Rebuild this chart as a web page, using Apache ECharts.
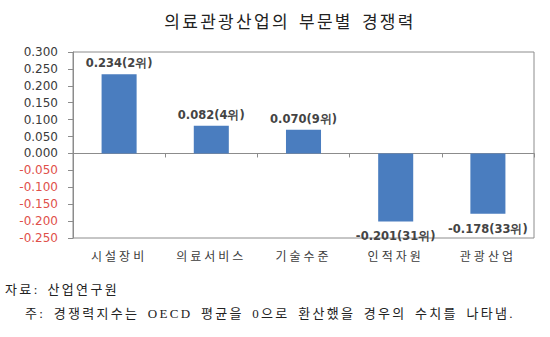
<!DOCTYPE html>
<html>
<head>
<meta charset="utf-8">
<script src="https://cdn.jsdelivr.net/npm/echarts@6/dist/echarts.min.js"></script>
<style>
  html, body { margin: 0; padding: 0; background: #fff; }
  #chart { width: 550px; height: 337px; }
</style>
</head>
<body>
<div id="chart"></div>
<script>
// Competitiveness index by sector (OECD average = 0)
const categories = ['시설장비', '의료서비스', '기술수준', '인적자원', '관광산업'];
const values = [0.234, 0.082, 0.070, -0.201, -0.178];
const ranks = [2, 4, 9, 31, 33];
const yTicks = { min: -0.25, max: 0.3, interval: 0.05 };

const titleText = '의료관광산업의 부문별 경쟁력';
const sourceText = '자료: 산업연구원';
const noteText = '주: 경쟁력지수는 OECD 평균을 0으로 환산했을 경우의 수치를 나타냄.';

const chart = echarts.init(document.getElementById('chart'), null, { renderer: 'svg' });

const frameColor = '#8c8c8c';
const barColor = '#4a7dbf';
const footFont = '"Liberation Serif", "Noto Sans CJK KR", serif';

chart.setOption({
  animation: false,
  graphic: [
    {
      type: 'text', x: 290, y: 20,
      style: {
        text: titleText, align: 'center', verticalAlign: 'middle',
        font: '17px "Noto Sans CJK KR"', fill: '#222'
      }
    },
    {
      type: 'text', x: 5, y: 289,
      style: {
        text: sourceText, align: 'left', verticalAlign: 'middle',
        font: '13px ' + footFont, fill: '#222'
      }
    },
    {
      type: 'text', x: 25, y: 313,
      style: {
        text: noteText, align: 'left', verticalAlign: 'middle',
        font: '13px ' + footFont, fill: '#222'
      }
    }
  ],
  grid: {
    left: 73, right: 16, top: 52, bottom: 99,
    show: true, borderColor: frameColor, borderWidth: 1, backgroundColor: 'transparent'
  },
  xAxis: [
    {
      type: 'category',
      data: categories,
      position: 'bottom',
      axisLine: { onZero: true, lineStyle: { color: frameColor, width: 1 } },
      axisTick: { show: true, length: 4, lineStyle: { color: frameColor } },
      axisLabel: { show: false }
    },
    {
      type: 'category',
      data: categories,
      position: 'bottom',
      axisLine: { show: false, onZero: false },
      axisTick: { show: false },
      axisLabel: {
        show: true, margin: 11,
        fontFamily: 'Noto Sans CJK KR', fontSize: 12, color: '#3c3c3c'
      }
    }
  ],
  yAxis: {
    type: 'value',
    min: yTicks.min, max: yTicks.max, interval: yTicks.interval,
    axisLine: { show: true, lineStyle: { color: frameColor } },
    axisTick: { show: true, length: 5, lineStyle: { color: frameColor } },
    splitLine: { show: false },
    axisLabel: {
      margin: 15,
      fontFamily: 'DejaVu Sans', fontSize: 12,
      formatter: v => v.toFixed(3),
      color: v => (v < 0 ? '#e0504a' : '#3a3a3a')
    }
  },
  series: [{
    type: 'bar',
    xAxisIndex: 0,
    barWidth: '38%',
    itemStyle: { color: barColor },
    data: values.map((v, i) => ({
      value: v,
      label: {
        show: true,
        position: v >= 0 ? 'top' : 'bottom',
        distance: v >= 0 ? 5 : 9,
        formatter: v.toFixed(3) + '(' + ranks[i] + '위)',
        fontFamily: 'DejaVu Sans', fontSize: 11.5, fontWeight: 'bold', color: '#444'
      }
    }))
  }]
});

// Wider tracking for the Korean headings, category names and notes
const spacing = [
  { match: t => t === titleText, letter: '2.3px', word: '3px' },
  { match: t => categories.includes(t), letter: '3px', word: '0px' },
  { match: t => t === sourceText, letter: '2.4px', word: '2px' },
  { match: t => t === noteText, letter: '2.3px', word: '3px' }
];
function applySpacing() {
  document.querySelectorAll('#chart svg text').forEach(el => {
    const t = el.textContent;
    const rule = spacing.find(r => r.match(t));
    if (rule) {
      el.setAttribute('letter-spacing', rule.letter);
      el.setAttribute('word-spacing', rule.word);
    }
  });
}
applySpacing();
chart.on('finished', applySpacing);
setTimeout(applySpacing, 30);
</script>
</body>
</html>
